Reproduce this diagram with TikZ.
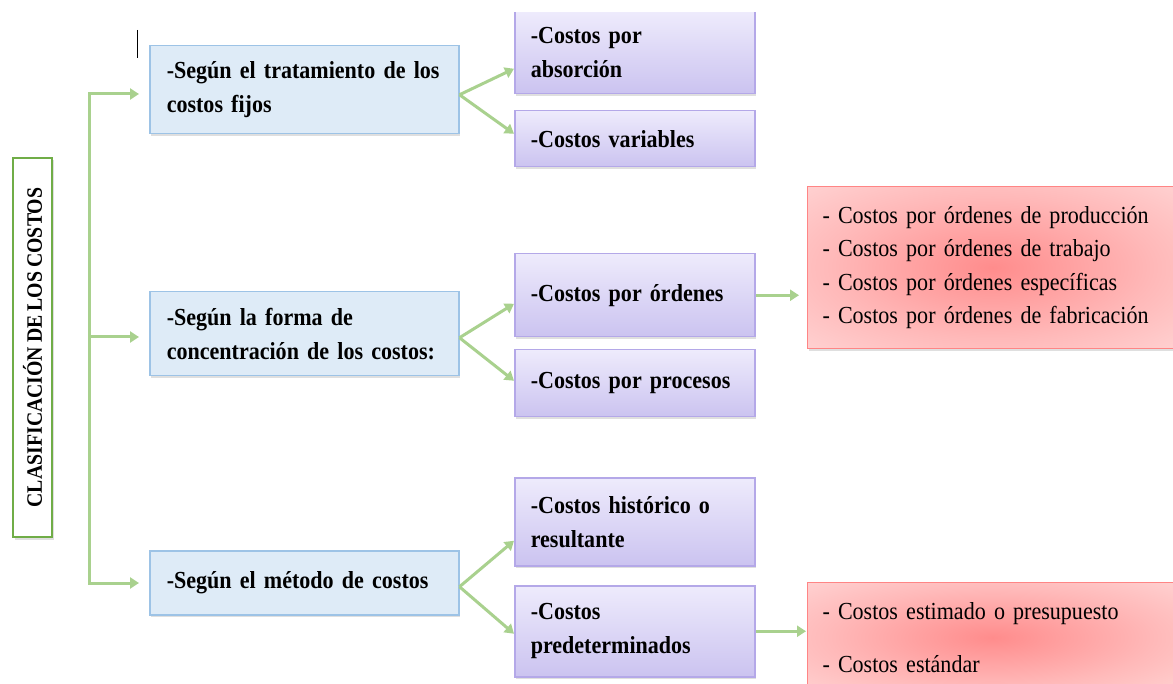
\documentclass[tikz,border=0pt]{standalone}
\usepackage{fontspec}
\setmainfont{Liberation Serif}[FakeStretch=0.9, WordSpace=0.8]
\usetikzlibrary{arrows.meta,shadows}
\definecolor{linkgreen}{HTML}{A9D18E}
\definecolor{rootgreen}{HTML}{70AD47}
\definecolor{blueFill}{HTML}{DEEBF7}
\definecolor{blueLine}{HTML}{9DC3E6}
\definecolor{lilacTop}{HTML}{EEEBFC}
\definecolor{lilacBot}{HTML}{CBC3F0}
\definecolor{lilacLine}{HTML}{B4A8E8}
\definecolor{redIn}{HTML}{FF8C8C}
\definecolor{redMid}{HTML}{FFB9B9}
\definecolor{redOut}{HTML}{FFDCDC}
\definecolor{redLine}{HTML}{FF8585}
\pgfdeclareradialshading{redglow}{\pgfpoint{0bp}{0bp}}{%
  color(0bp)=(redIn); color(22bp)=(redMid); color(42bp)=(redOut); color(50bp)=(redOut)}
\newcommand{\boxFont}[0]{\fontsize{24.5}{34}\selectfont\bfseries}
\newcommand{\listFont}[0]{\fontsize{24.5}{33.5}\selectfont}

\begin{document}
\begin{tikzpicture}[x=1pt, y=-1pt]
  \tikzset{
    boxshadow/.style={drop shadow={shadow xshift=1.5pt,shadow yshift=-2.5pt,opacity=0.25}},
    rootbox/.style={draw=rootgreen, line width=2pt, fill=white, rotate=90,
      minimum width=379pt, minimum height=39pt, inner sep=0pt,
      font=\fontsize{22}{24}\selectfont\bfseries, boxshadow},
    levelbox/.style={draw=blueLine, line width=1.5pt, fill=blueFill, anchor=north west,
      text width=275pt, inner xsep=17pt, align=left, font=\boxFont, boxshadow},
    typebox/.style={draw=lilacLine, line width=1.5pt, top color=lilacTop, bottom color=lilacBot,
      anchor=north west, text width=208pt, inner xsep=16pt, align=left, font=\boxFont, boxshadow},
    listbox/.style={draw=redLine, line width=1pt, shading=redglow,
      anchor=north west, text width=340pt, inner xsep=15pt, align=left, font=\listFont, boxshadow},
    trunk/.style={draw=linkgreen, line width=3pt, line cap=rect},
    link/.style={draw=linkgreen, line width=3pt, -{Triangle[length=9pt,width=11pt]}}
  }
  \useasboundingbox (0,0) rectangle (1173,684);
  \clip (0,13) rectangle (1173,684);

  % root
  \node[rootbox] (root) at (32.5,347.5) {CLASIFICACIÓN DE LOS COSTOS};

  % second level
  \node[levelbox, minimum height=88pt] (fijos) at (149,45) {-Según el tratamiento de los\\costos fijos};
  \node[levelbox, minimum height=84pt] (forma) at (149,291) {-Según la forma de\\concentración de los costos:};
  \node[levelbox, minimum height=64pt] (metodo) at (149,550) {-Según el método de costos};

  % third level
  \node[typebox, minimum height=82pt] (absorcion) at (514,11) {-Costos por\\absorción};
  \node[typebox, minimum height=56pt] (variables) at (514,110) {-Costos variables};
  \node[typebox, minimum height=83pt] (ordenes) at (514,253) {-Costos por órdenes};
  \node[typebox, minimum height=67pt] (procesos) at (514,349) {-Costos por procesos};
  \node[typebox, minimum height=88pt] (historico) at (514,477) {-Costos histórico o\\resultante};
  \node[typebox, minimum height=91pt] (predet) at (514,585) {-Costos\\predeterminados};

  % lists
  \node[listbox, minimum height=162pt] (ordlist) at (807,186)
    {- Costos por órdenes de producción\\- Costos por órdenes de trabajo\\- Costos por órdenes específicas\\- Costos por órdenes de fabricación};
  \node[listbox, minimum height=110pt] (estlist) at (807,582)
    {- Costos estimado o presupuesto\\[19pt]- Costos estándar};

  % trunk
  \coordinate (top) at (89,94);
  \coordinate (mid) at (89,337);
  \coordinate (bottom) at (89,583);
  \draw[trunk] (top) -- (bottom);
  \foreach \c/\n in {top/fijos, mid/forma, bottom/metodo}
    \draw[link, shorten >=10pt] (\c) -- (\c -| \n.west);

  % branches
  \draw[link] ([yshift=-5pt]fijos.east) -- ([yshift=-16pt]absorcion.west);
  \draw[link] ([yshift=-5pt]fijos.east) -- ([yshift=5pt]variables.west);
  \draw[link] ([yshift=-4pt]forma.east) -- ([yshift=-8.5pt]ordenes.west);
  \draw[link] ([yshift=-4pt]forma.east) -- ([yshift=2.5pt]procesos.west);
  \draw[link] ([yshift=-4pt]metodo.east) -- ([yshift=-19pt]historico.west);
  \draw[link] ([yshift=-4pt]metodo.east) -- ([yshift=-2.5pt]predet.west);
  \draw[link, shorten >=8pt] (ordenes.east) -- (ordenes.east -| ordlist.west);
  \draw[link, shorten >=1pt] (predet.east) -- (predet.east -| estlist.west);

  % cursor mark
  \draw[black, line width=1pt] (137,30) -- (137,58);
\end{tikzpicture}
\end{document}
